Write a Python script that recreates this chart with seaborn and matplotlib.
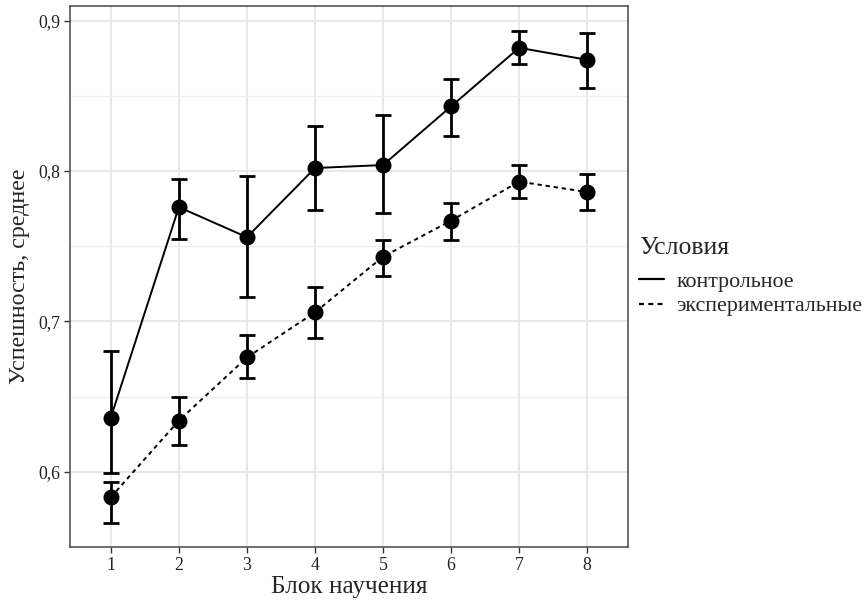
import matplotlib
matplotlib.use("Agg")
import matplotlib.pyplot as plt
import seaborn as sns
import pandas as pd
import numpy as np
from matplotlib.ticker import FuncFormatter, MultipleLocator

blocks = [1, 2, 3, 4, 5, 6, 7, 8]
conditions = ["контрольное", "экспериментальные"]
ctrl_mean = [0.636, 0.776, 0.756, 0.802, 0.804, 0.843, 0.882, 0.874]
ctrl_low = [0.599, 0.755, 0.716, 0.774, 0.772, 0.823, 0.871, 0.855]
ctrl_high = [0.680, 0.795, 0.797, 0.830, 0.837, 0.861, 0.893, 0.892]
exp_mean = [0.583, 0.634, 0.676, 0.706, 0.743, 0.767, 0.793, 0.786]
exp_low = [0.566, 0.618, 0.662, 0.689, 0.730, 0.754, 0.782, 0.774]
exp_high = [0.593, 0.650, 0.691, 0.723, 0.754, 0.779, 0.804, 0.798]
y_ticks = [0.6, 0.7, 0.8, 0.9]

df = pd.DataFrame({
    "Блок": blocks + blocks,
    "Среднее": ctrl_mean + exp_mean,
    "low": ctrl_low + exp_low,
    "high": ctrl_high + exp_high,
    "Условия": [conditions[0]] * len(blocks) + [conditions[1]] * len(blocks),
})

sns.set_theme(style="whitegrid")
plt.rcParams["font.family"] = ["Liberation Serif", "DejaVu Serif"]

fig = plt.figure(figsize=(8.68, 6.0), dpi=100)
ax = fig.add_axes([70 / 868, 1 - 547 / 600, (628 - 70) / 868, (547 - 6) / 600])

# error bars
for cond in conditions:
    sub = df[df["Условия"] == cond]
    ax.errorbar(sub["Блок"], sub["Среднее"],
                yerr=[sub["Среднее"] - sub["low"], sub["high"] - sub["Среднее"]],
                fmt="none", ecolor="black", elinewidth=2.0, capsize=5.5,
                capthick=2.0, zorder=3)

sns.lineplot(data=df, x="Блок", y="Среднее", style="Условия",
             style_order=conditions, color="black",
             dashes={conditions[0]: "", conditions[1]: (2.2, 2.0)},
             markers={conditions[0]: "o", conditions[1]: "o"},
             markersize=11.5, markeredgewidth=0, linewidth=1.4,
             ax=ax, zorder=4, errorbar=None)

ax.set_xlim(0.4, 8.6)
ax.set_ylim(0.5499, 0.9098)
ax.set_xticks(blocks)
ax.set_yticks(y_ticks)
ax.yaxis.set_minor_locator(MultipleLocator(0.05))
ax.yaxis.set_major_formatter(FuncFormatter(lambda v, p: f"{v:.1f}".replace(".", ",")))
ax.grid(True, which="major", color="#E6E6E6", linewidth=1.3)
ax.grid(True, which="minor", axis="y", color="#EEEEEE", linewidth=0.9)
ax.set_axisbelow(True)
for s in ax.spines.values():
    s.set_color("#555555")
    s.set_linewidth(1.2)
ax.tick_params(axis="both", which="major", length=4, width=1.0, color="#333333",
               labelsize=12.8, labelcolor="#222222", pad=3,
               bottom=True, left=True)
ax.tick_params(axis="both", which="minor", length=0)
ax.set_xlabel("Блок научения", fontsize=18.2, labelpad=2)
ax.set_ylabel("Успешность, среднее", fontsize=17.3, labelpad=6)

leg = ax.legend(title="Условия", loc="center left", bbox_to_anchor=(1.0, 0.5),
                frameon=False, fontsize=15.8, title_fontsize=18.5,
                handlelength=1.15, handletextpad=0.55, borderaxespad=0.1,
                labelspacing=0.2)
leg._legend_box.align = "left"
leg._legend_box.sep = 9
for h in leg.get_lines():
    h.set_marker("")
    h.set_linewidth(1.6)

fig.savefig("out.png", dpi=100)
